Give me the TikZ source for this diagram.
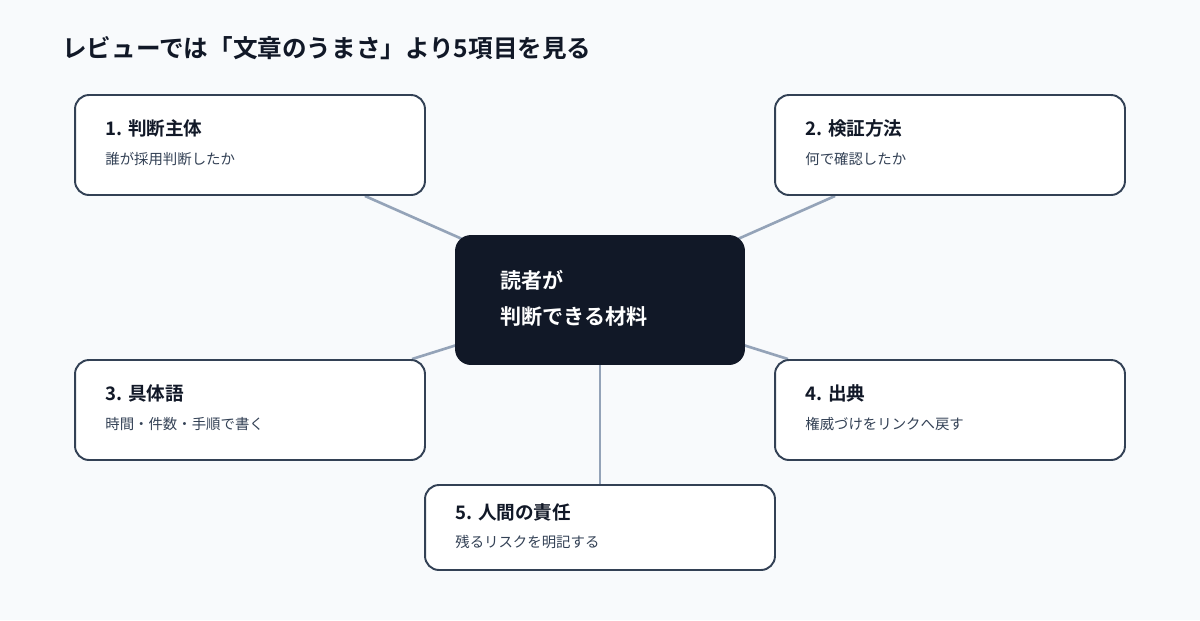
\documentclass[tikz,border=0pt]{standalone}
\usepackage{fontspec}
\setmainfont{Noto Sans CJK JP}
\newfontfamily\cjkbold{Noto Sans CJK JP Bold}
\usetikzlibrary{positioning, backgrounds}
\definecolor{pagebg}{HTML}{F8FAFC}
\definecolor{ink}{HTML}{111827}
\definecolor{edgeline}{HTML}{334155}
\definecolor{linkgray}{HTML}{94A3B8}
\definecolor{subtext}{HTML}{334155}
\begin{document}
\begin{tikzpicture}[x=0.02cm, y=-0.02cm]
            \tikzset{
                item/.style={draw=edgeline, line width=1.1pt, fill=white, rounded corners=0.28cm,
                    minimum width=7cm, minimum height=2cm, inner sep=0pt}, % point boxes
                hub/.style={fill=ink, rounded corners=0.32cm, minimum width=5.8cm,
                    minimum height=2.6cm, inner sep=0pt},
                head/.style={anchor=west, inner sep=0pt, text=ink, font=\cjkbold\fontsize{10.6}{12}\selectfont},
                note/.style={anchor=west, inner sep=0pt, text=subtext, font=\fontsize{8.2}{10}\selectfont},
                link/.style={draw=linkgray, line width=1.5pt},
            }

            \node[anchor=west, inner sep=0pt, text=ink, font=\cjkbold\fontsize{14}{16}\selectfont] (title) at (62,48) {レビューでは「文章のうまさ」より5項目を見る};

            \node[hub] (core) at (600,300) {};
            \node[anchor=west, inner sep=0pt, align=left, text=white, font=\cjkbold\fontsize{12}{20.5}\selectfont] (corelabel) at (500,298) {読者が\\判断できる材料};

            \node[item] (p1) at (250,145) {};
            \node[item] (p2) at (950,145) {};
            \node[item] (p3) at (250,410) {};
            \node[item] (p4) at (950,410) {};
            \node[item, minimum height=1.7cm] (p5) at (600,527.5) {};

            \node[head] at (105,128) {1. 判断主体};
            \node[note] at (105,159) {誰が採用判断したか};
            \node[head] at (805,128) {2. 検証方法};
            \node[note] at (805,159) {何で確認したか};
            \node[head] at (105,393) {3. 具体語};
            \node[note] at (105,424) {時間・件数・手順で書く};
            \node[head] at (805,393) {4. 出典};
            \node[note] at (805,424) {権威づけをリンクへ戻す};
            \node[head] at (455,512) {5. 人間の責任};
            \node[note] at (455,542) {残るリスクを明記する};

            \begin{scope}[on background layer]
                \fill[pagebg] (0,0) rectangle (1200,620);
                \draw[link] (p1) -- (core.center);
                \draw[link] (p2) -- (core.center);
                \draw[link] (p3) -- (core.center);
                \draw[link] (p4) -- (core.center);
                \draw[link] (p5) -- (core.center);
            \end{scope}
        \end{tikzpicture}
\end{document}
